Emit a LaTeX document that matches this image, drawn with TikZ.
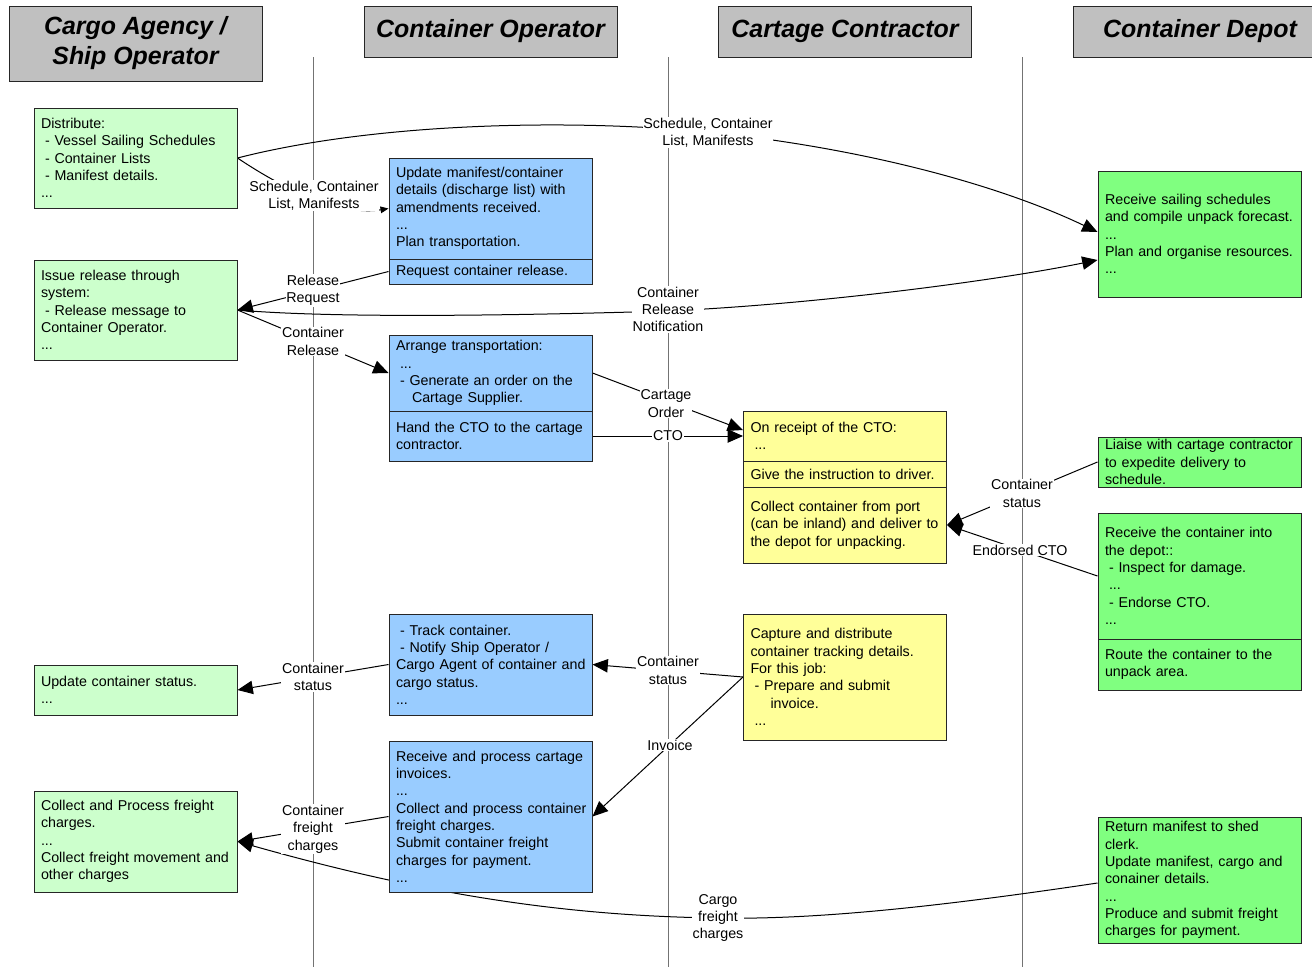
\documentclass[tikz,border=0pt]{standalone}
\usepackage{fontspec}
\setmainfont{Liberation Sans}
\usetikzlibrary{arrows.meta,calc}
\pgfdeclarelayer{bg}
\pgfsetlayers{bg,main}
\definecolor{lgreen}{RGB}{204,255,204}
\definecolor{lblue}{RGB}{153,204,255}
\definecolor{lyellow}{RGB}{255,255,153}
\definecolor{dgreen}{RGB}{128,255,128}
\definecolor{hgray}{RGB}{192,192,192}
\newcommand{\bxfont}{\fontsize{10.7pt}{13pt}\selectfont\hyphenpenalty=10000\exhyphenpenalty=10000}
\newcommand{\ind}{\hspace*{3pt}}
\tikzset{
  box/.style={draw=black!85, line width=0.75pt, rectangle, inner xsep=5.25pt, inner ysep=0pt,
    text width=141.75pt, align=left, minimum width=152.25pt, font=\bxfont},
  ga/.style={box, fill=lgreen},
  bl/.style={box, fill=lblue},
  ye/.style={box, fill=lyellow},
  dg/.style={box, fill=dgreen},
  hdr/.style={draw=black!85, line width=0.75pt, fill=hgray, minimum width=189.75pt, align=center,
    font=\fontsize{18.7pt}{22.5pt}\selectfont\bfseries\itshape},
  lab/.style={fill=white, inner sep=0.6pt, align=center, font=\bxfont},
  con/.style={line width=0.75pt, draw=black},
  arr/.style={con, -{Triangle[length=11.5pt,width=10pt]}},
  sarr/.style={con, -{Triangle[length=6pt,width=5pt]}},
  life/.style={draw=black!55, line width=0.75pt},
}
\begin{document}
\begin{tikzpicture}[x=0.75pt,y=-0.75pt]
\useasboundingbox (0,0) rectangle (1312,967);

% headers
\node[hdr, minimum height=56.25pt] (h1) at (135.5,43.5) {Cargo Agency /\\Ship Operator};
\node[hdr, minimum height=38.25pt] (h2) at (490.5,31.5) {Container Operator};
\node[hdr, minimum height=38.25pt] (h3) at (845,31.5) {Cartage Contractor};
\node[hdr, minimum height=38.25pt] (h4) at (1200,31.5) {Container Depot};

% column 1
\node[ga, minimum height=75pt] (a1) at (135.5,158) {Distribute:\\\ind- Vessel Sailing Schedules\\\ind- Container Lists\\\ind- Manifest details.\\...};
\node[ga, minimum height=75pt] (a2) at (135.5,310) {Issue release through\\system:\\\ind- Release message to\\Container Operator.\\...};
\node[ga, minimum height=37.5pt] (a3) at (135.5,690) {Update container status.\\...};
\node[ga, minimum height=75.75pt] (a4) at (135.5,841.5) {Collect and Process freight\\charges.\\...\\\mbox{Collect freight movement and}\\other charges};

% column 2
\node[bl, minimum height=75.75pt] (b1a) at (490.5,208.5) {Update manifest/container\\details (discharge list) with\\amendments received.\\...\\Plan transportation.};
\node[bl, minimum height=18.75pt] (b1b) at (490.5,271.5) {Request container release.};
\node[bl, minimum height=57pt] (b2a) at (490.5,373) {Arrange transportation:\\\ind...\\\ind- Generate an order on the\\\hspace*{12pt}Cartage Supplier.};
\node[bl, minimum height=37.5pt] (b2b) at (490.5,436) {\mbox{Hand the CTO to the cartage}\\contractor.};
\node[bl, minimum height=75.75pt] (b3) at (490.5,664.5) {\ind- Track container.\\\ind- Notify Ship Operator /\\\mbox{Cargo Agent of container and}\\cargo status.\\...};
\node[bl, minimum height=113.25pt] (b4) at (490.5,816.5) {\mbox{Receive and process cartage}\\invoices.\\...\\\mbox{Collect and process container}\\freight charges.\\Submit container freight\\charges for payment.\\...};

% column 3
\node[ye, minimum height=37.5pt] (c1a) at (845,436) {On receipt of the CTO:\\\ind...};
\node[ye, minimum height=19.5pt] (c1b) at (845,474) {\mbox{Give the instruction to driver.}};
\node[ye, minimum height=57pt] (c1c) at (845,525) {Collect container from port\\\mbox{(can be inland) and deliver to}\\the depot for unpacking.};
\node[ye, minimum height=94.5pt] (c2) at (845,677) {Capture and distribute\\container tracking details.\\For this job:\\\ind- Prepare and submit\\\hspace*{15pt}invoice.\\\ind...};

% column 4
\node[dg, minimum height=94.5pt] (d1) at (1199.5,234) {Receive sailing schedules\\\mbox{and compile unpack forecast.}\\...\\\mbox{Plan and organise resources.}\\...};
\node[dg, minimum height=37.5pt] (d2) at (1199.5,462) {\mbox{Liaise with cartage contractor}\\to expedite delivery to\\schedule.};
\node[dg, minimum height=94.5pt] (d3a) at (1199.5,576) {Receive the container into\\the depot::\\\ind- Inspect for damage.\\\ind...\\\ind- Endorse CTO.\\...};
\node[dg, minimum height=38.25pt] (d3b) at (1199.5,664.5) {Route the container to the\\unpack area.};
\node[dg, minimum height=94.5pt] (d4) at (1199.5,880) {Return manifest to shed\\clerk.\\Update manifest, cargo and\\conainer details.\\...\\Produce and submit freight\\charges for payment.};

\begin{pgfonlayer}{bg}
% lifelines
\coordinate (t1) at (313,57); \coordinate (e1) at (313,967);
\coordinate (t2) at (668,57); \coordinate (e2) at (668,967);
\coordinate (t3) at (1022,57); \coordinate (e3) at (1022,967);
\draw[life] (t1) -- (e1);
\draw[life] (t2) -- (e2);
\draw[life] (t3) -- (e3);

% connectors
\draw[arr] (a1.east) .. controls (370,124) and (560,118) .. (708,132)
  .. controls (880,150) and (1010,190) .. ($(d1.west)+(0,-2)$);
\draw[sarr] (a1.east) .. controls (300,200) and (350,215) .. (b1a.west);
\draw[arr] (b1b.west) -- (a2.east);
\draw[arr] (a2.east) .. controls (330,318) and (500,316) .. (668,311)
  .. controls (820,304) and (1000,280) .. ($(d1.west)+(0,26)$);
\draw[arr] (a2.east) -- (b2a.west);
\draw[arr] (b2a.east) -- ($(c1a.west)+(0,-6)$);
\draw[arr] (b2b.east) -- (c1a.west);
\draw[arr] (d2.west) -- (c1c.east);
\draw[arr] (d3a.west) -- (c1c.east);
\draw[arr] (c2.west) -- (b3.east);
\draw[arr] (c2.west) -- (b4.east);
\draw[arr] (b3.west) -- (a3.east);
\draw[arr] (b4.west) -- (a4.east);
\draw[arr] ($(d4.west)+(0,3)$) .. controls (950,905) and (820,920) .. (718,918)
  .. controls (560,916) and (420,893) .. (a4.east);

% labels
\node[lab] (l1) at (708,132.5) {Schedule, Container\\List, Manifests};
\node[lab] (l2) at (314,195.5) {Schedule, Container\\List, Manifests};
\node[lab] (l3) at (313,290.5) {Release\\Request};
\node[lab] (l4) at (668,309.5) {Container\\Release\\Notification};
\node[lab] (l5) at (313,341.5) {Container\\Release};
\node[lab] (l6) at (666,403.5) {Cartage\\Order};
\node[lab] (l7) at (668,436) {CTO};
\node[lab] (l8) at (1022,493.5) {Container\\status};
\node[lab] (l9) at (1020,550) {Endorsed CTO};
\node[lab] (l10) at (668,670.5) {Container\\status};
\node[lab] (l11) at (670,745) {Invoice};
\node[lab] (l12) at (313,677) {Container\\status};
\node[lab] (l13) at (313,829) {Container\\freight\\charges};
\node[lab] (l14) at (718,918) {Cargo\\freight\\charges};
\end{pgfonlayer}
\end{tikzpicture}
\end{document}
